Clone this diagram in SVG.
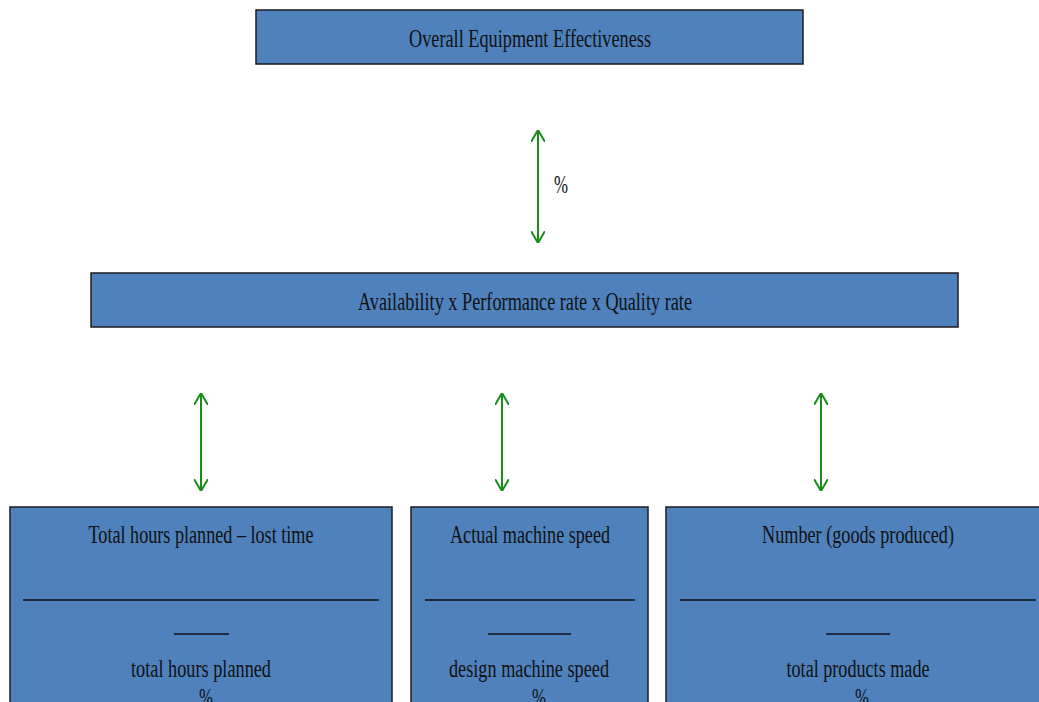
<svg xmlns="http://www.w3.org/2000/svg" width="1039" height="702" viewBox="0 0 1039 702">
  <style>
    .box { fill: #4f81bd; stroke: #1c1c1c; stroke-width: 1.5; }
    .lbl { font-family: "Liberation Serif", "Times New Roman", serif; font-size: 26px; fill: #111111; text-anchor: middle; }
    .rule { stroke: #111111; stroke-width: 1.5; }
    .conn { stroke: #1a8c1a; stroke-width: 2; fill: none; marker-start: url(#head); marker-end: url(#head); }
  </style>
  <defs>
    <marker id="head" viewBox="0 0 12 14" refX="12" refY="7" markerWidth="12" markerHeight="14" markerUnits="userSpaceOnUse" orient="auto-start-reverse">
      <path d="M0,0 L12,7 L0,14" fill="none" stroke="#1a8c1a" stroke-width="2"/>
    </marker>
  </defs>

  <rect width="1039" height="702" fill="#ffffff"/>

  <g id="connectors">
    <line class="conn" x1="538" y1="130" x2="538" y2="243"/>
    <line class="conn" x1="201" y1="393" x2="201" y2="491"/>
    <line class="conn" x1="502" y1="393" x2="502" y2="491"/>
    <line class="conn" x1="821" y1="393" x2="821" y2="491"/>
    <text class="lbl" x="561" y="193" textLength="14" lengthAdjust="spacingAndGlyphs">%</text>
  </g>

  <g id="oee">
    <rect class="box" x="256" y="10" width="547" height="54"/>
    <text class="lbl" x="530" y="47" textLength="242" lengthAdjust="spacingAndGlyphs">Overall Equipment Effectiveness</text>
  </g>

  <g id="formula">
    <rect class="box" x="91" y="273" width="867" height="54"/>
    <text class="lbl" x="525" y="310" textLength="334" lengthAdjust="spacingAndGlyphs">Availability x Performance rate x Quality rate</text>
  </g>

  <g id="availability">
    <rect class="box" x="10" y="507" width="382" height="200"/>
    <text class="lbl" x="201" y="543" textLength="225" lengthAdjust="spacingAndGlyphs">Total hours planned – lost time</text>
    <line class="rule" x1="23" y1="600" x2="379" y2="600"/>
    <line class="rule" x1="174" y1="634" x2="229" y2="634"/>
    <text class="lbl" x="201" y="677" textLength="140" lengthAdjust="spacingAndGlyphs">total hours planned</text>
    <text class="lbl" x="206" y="706" textLength="14" lengthAdjust="spacingAndGlyphs">%</text>
  </g>

  <g id="performance">
    <rect class="box" x="411" y="507" width="237" height="200"/>
    <text class="lbl" x="530" y="543" textLength="160" lengthAdjust="spacingAndGlyphs">Actual machine speed</text>
    <line class="rule" x1="425" y1="600" x2="635" y2="600"/>
    <line class="rule" x1="488" y1="634" x2="571" y2="634"/>
    <text class="lbl" x="529" y="677" textLength="160" lengthAdjust="spacingAndGlyphs">design machine speed</text>
    <text class="lbl" x="539" y="706" textLength="14" lengthAdjust="spacingAndGlyphs">%</text>
  </g>

  <g id="quality">
    <rect class="box" x="666" y="507" width="390" height="200"/>
    <text class="lbl" x="858" y="543" textLength="192" lengthAdjust="spacingAndGlyphs">Number (goods produced)</text>
    <line class="rule" x1="680" y1="600" x2="1036" y2="600"/>
    <line class="rule" x1="826" y1="634" x2="890" y2="634"/>
    <text class="lbl" x="858" y="677" textLength="143" lengthAdjust="spacingAndGlyphs">total products made</text>
    <text class="lbl" x="862" y="706" textLength="14" lengthAdjust="spacingAndGlyphs">%</text>
  </g>
</svg>
